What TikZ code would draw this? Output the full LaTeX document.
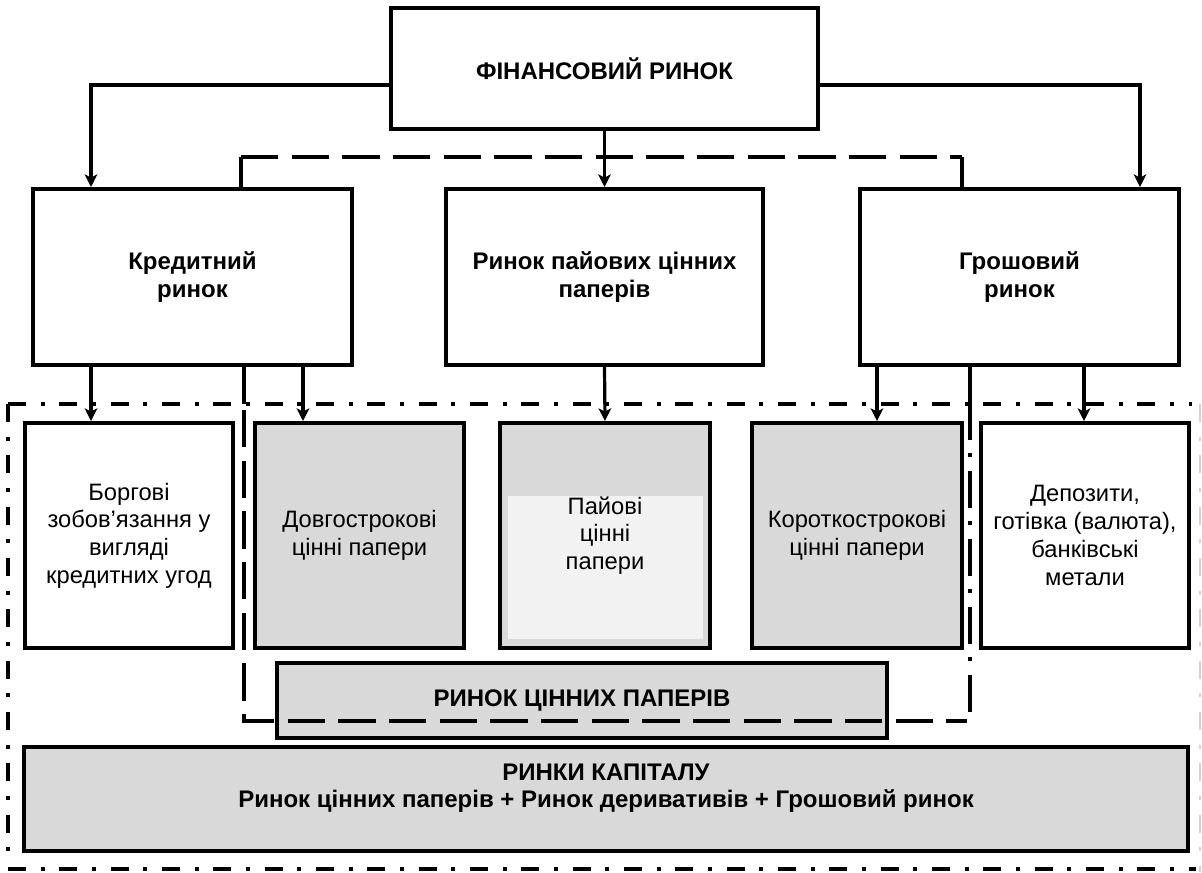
\documentclass[tikz,border=0pt]{standalone}
\usepackage{fontspec}
\setmainfont{Liberation Sans}
\usetikzlibrary{arrows.meta}
\definecolor{boxgray}{RGB}{217,217,217}
\definecolor{boxlight}{RGB}{242,242,242}

\begin{document}
\begin{tikzpicture}[
    x=0.75pt, y=-0.75pt,
    box/.style={rectangle, draw, line width=3pt, align=center, inner sep=2pt},
    topbox/.style={box, minimum height=132pt, font=\fontsize{18}{21.5}\selectfont\bfseries},
    subbox/.style={box, minimum height=168.75pt, font=\fontsize{17.8}{20.8}\selectfont},
    graybox/.style={subbox, fill=boxgray},
    arrow/.style={-{Stealth[length=9.5pt,width=9.5pt,inset=2.5pt]}, line width=2.4pt},
    link/.style={line width=2.4pt},
    longdash/.style={line width=3pt, dash pattern=on 28pt off 10pt},
    longdashdot/.style={line width=3pt, dash pattern=on 28pt off 10pt on 3pt off 10pt},
    dashdot/.style={line width=3pt, dash pattern=on 13.5pt off 11pt on 3pt off 11pt}
]
    \useasboundingbox (0,0) rectangle (1202,872);

    \node[topbox, minimum width=320.25pt, minimum height=90.75pt] (fin) at (604.5,68.5) {ФІНАНСОВИЙ РИНОК};
    \node[topbox, minimum width=239.25pt] (kred) at (192.5,277) {Кредитний\\ринок};
    \node[topbox, minimum width=237.75pt] (pai) at (604.5,277) {Ринок пайових цінних\\паперів};
    \node[topbox, minimum width=239.25pt] (grosh) at (1019.5,277) {Грошовий\\ринок};

    \node[subbox, minimum width=156pt] (borg) at (129,535.5) {Боргові\\зобов’язання у\\вигляді\\кредитних угод};
    \node[graybox, minimum width=156.75pt] (dovg) at (359.5,535.5) {Довгострокові\\цінні папери};
    \node[graybox, minimum width=157.5pt,
        path picture={\fill[boxlight] ([shift={(6pt,6.75pt)}]path picture bounding box.south west)
            rectangle ([shift={(-5.25pt,-54.75pt)}]path picture bounding box.north east);}]
        (paiovi) at (605,535.5) {Пайові\\цінні\\папери};
    \node[graybox, minimum width=157.5pt] (korot) at (857,535.5) {Короткострокові\\цінні папери};
    \node[subbox, minimum width=156pt] (depoz) at (1085,535.5) {Депозити,\\готівка (валюта),\\банківські\\метали};

    \node[box, fill=boxgray, minimum width=457.5pt, minimum height=56.25pt,
        font=\fontsize{18}{21.5}\selectfont\bfseries] (rcp) at (582,700.5) {РИНОК ЦІННИХ ПАПЕРІВ};
    \node[box, fill=boxgray, minimum width=873pt, minimum height=78pt] (rk) at (606,799) {};
    \node[align=center, font=\fontsize{18}{20.5}\selectfont\bfseries] (rkt) at (606,788)
        {РИНКИ КАПІТАЛУ\\Ринок цінних паперів + Ринок деривативів + Грошовий ринок};

    \draw[arrow] (fin.west |- 0,85) -| (91,0 |- kred.north);
    \draw[arrow] (fin.east |- 0,85) -| (1140,0 |- grosh.north);
    \draw[arrow] (fin.south) -- (pai.north);
    \draw[link] (241,0 |- kred.north) -- (241,157);
    \draw[longdash] (241,157) -- (962,157);
    \draw[link] (962,157) -- (962,0 |- grosh.north);

    \draw[arrow] (91,0 |- kred.south) -- (91,0 |- borg.north);
    \draw[arrow] (303,0 |- kred.south) -- (303,0 |- dovg.north);
    \draw[arrow] (pai.south) -- (paiovi.north);
    \draw[arrow] (877,0 |- grosh.south) -- (877,0 |- korot.north);
    \draw[arrow] (1084,0 |- grosh.south) -- (1084,0 |- depoz.north);

    \draw[link] (244,0 |- kred.south) -- (244,404);
    \draw[longdash] (244,410) -- (244,721) -- (967,721);
    \draw[longdashdot] (970,712) -- (970,404);
    \draw[link] (970,404) -- (970,0 |- grosh.south);

    \draw[dashdot] (8,404) -- (1192,404);
    \draw[dashdot] (8,404) -- (8,866);
    \draw[dashdot] (8,869) -- (1196,869);
    \draw[dashdot, gray!35, line width=1.5pt] (1200,404) -- (1200,872);
\end{tikzpicture}
\end{document}
